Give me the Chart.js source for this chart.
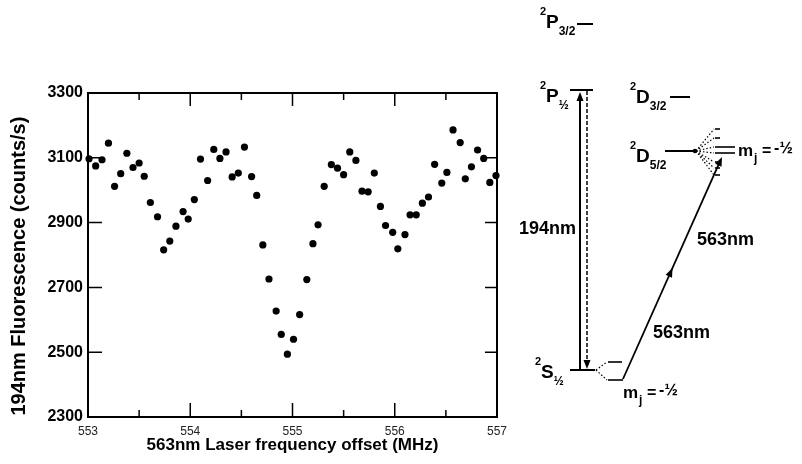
<!DOCTYPE html>
<html>
<head>
<meta charset="utf-8">
<script src="https://cdn.jsdelivr.net/npm/chart.js@4"></script>
<style>
  body { margin: 0; background: #fff; }
  canvas { display: block; }
</style>
</head>
<body>
<canvas id="scan" width="802" height="464"></canvas>
<script>
// laser frequency offset (MHz) and 194nm fluorescence (counts/s)
var freqOffset = [
	553.01, 553.075, 553.137, 553.2, 553.26, 553.32, 553.38, 553.44, 553.50, 553.55,
	553.61, 553.68, 553.74, 553.80, 553.86, 553.93, 553.98, 554.04, 554.10, 554.17,
	554.23, 554.29, 554.35, 554.41, 554.47, 554.53, 554.60, 554.65, 554.71, 554.77,
	554.84, 554.89, 554.95, 555.01, 555.07, 555.14, 555.20, 555.25, 555.31, 555.38,
	555.44, 555.50, 555.56, 555.62, 555.68, 555.74, 555.80, 555.86, 555.91, 555.98,
	556.03, 556.10, 556.15, 556.21, 556.27, 556.33, 556.39, 556.46, 556.51, 556.57,
	556.64, 556.69, 556.75, 556.81, 556.87, 556.93, 556.99
];
var counts = [
	3097, 3075, 3094, 3145, 3012, 3051, 3114, 3070, 3084, 3043,
	2962, 2918, 2816, 2843, 2889, 2934, 2911, 2971, 3096, 3030,
	3126, 3098, 3118, 3041, 3053, 3133, 3042, 2984, 2831, 2726,
	2627, 2555, 2494, 2540, 2616, 2724, 2835, 2893, 3012, 3079,
	3068, 3048, 3118, 3092, 2997, 2995, 3053, 2950, 2891, 2870,
	2819, 2863, 2924, 2924, 2960, 2979, 3080, 3022, 3055, 3186,
	3147, 3035, 3072, 3124, 3098, 3024, 3045
];
var xTicks = [553, 554, 555, 556, 557];
var xMinorTicks = [553.5, 554.5, 555.5, 556.5];
var yTicks = [2300, 2500, 2700, 2900, 3100, 3300];

var FONT = '"Liberation Sans", Arial, sans-serif';


/*
 * frame and inward tick marks, drawn on the chart's own scales
 */
var framePlugin = {
	id: 'frame',
	beforeDatasetsDraw: function (chart) {
		var ctx = chart.ctx;
		var a = chart.chartArea;
		var xs = chart.scales.x;
		var ys = chart.scales.y;
		ctx.save();
		ctx.strokeStyle = '#000';
		ctx.lineWidth = 2;
		ctx.strokeRect(a.left, a.top, a.right - a.left, a.bottom - a.top);

		ctx.lineWidth = 1.5;
		ctx.beginPath();
		xTicks.forEach(function (v) {
			var px = xs.getPixelForValue(v);
			ctx.moveTo(px, a.bottom); ctx.lineTo(px, a.bottom - 14);
			ctx.moveTo(px, a.top); ctx.lineTo(px, a.top + 13);
		});
		xMinorTicks.forEach(function (v) {
			var px = xs.getPixelForValue(v);
			ctx.moveTo(px, a.bottom); ctx.lineTo(px, a.bottom - 7);
			ctx.moveTo(px, a.top); ctx.lineTo(px, a.top + 7);
		});
		yTicks.forEach(function (v) {
			var py = ys.getPixelForValue(v);
			ctx.moveTo(a.left, py); ctx.lineTo(a.left + 14, py);
			ctx.moveTo(a.right, py); ctx.lineTo(a.right - 12, py);
		});
		ctx.stroke();
		ctx.restore();
	}
};


function arrowHead(ctx, x, y, angle, len, half) {
	ctx.save();
	ctx.translate(x, y);
	ctx.rotate(angle);
	ctx.beginPath();
	ctx.moveTo(0, 0);
	ctx.lineTo(-len, -half);
	ctx.lineTo(-len, half);
	ctx.closePath();
	ctx.fill();
	ctx.restore();
}

function line(ctx, x1, y1, x2, y2) {
	ctx.beginPath();
	ctx.moveTo(x1, y1);
	ctx.lineTo(x2, y2);
	ctx.stroke();
}

// term symbol like 2P1/2: superscript, letter, subscript
function term(ctx, x, base, sup, letter, sub) {
	ctx.font = 'bold 11px ' + FONT;
	ctx.fillText(sup, x, base - 13);
	ctx.font = 'bold 19px ' + FONT;
	ctx.fillText(letter, x + 6, base);
	var w = ctx.measureText(letter).width;
	ctx.font = 'bold 12px ' + FONT;
	ctx.fillText(sub, x + 6 + w, base + 7);
}

function mjLabel(ctx, x, base) {
	ctx.font = 'bold 17px ' + FONT;
	ctx.fillText('m', x, base);
	var w = ctx.measureText('m').width;
	ctx.font = 'bold 12px ' + FONT;
	ctx.fillText('j', x + w + 1, base + 6);
	ctx.font = 'bold 16px ' + FONT;
	ctx.fillText('=', x + w + 9, base);
	ctx.font = 'bold 16px ' + FONT;
	ctx.fillText('-\u00bd', x + w + 21, base - 3);
}


/*
 * level scheme on the right
 */
var levelPlugin = {
	id: 'levels',
	afterDraw: function (chart) {
		var ctx = chart.ctx;
		ctx.save();
		ctx.fillStyle = '#000';
		ctx.strokeStyle = '#000';
		ctx.textAlign = 'left';
		ctx.textBaseline = 'alphabetic';

		term(ctx, 540, 28, '2', 'P', '3/2');
		term(ctx, 540, 102, '2', 'P', '\u00bd');
		term(ctx, 630, 103, '2', 'D', '3/2');
		term(ctx, 630, 162, '2', 'D', '5/2');
		term(ctx, 535, 378, '2', 'S', '\u00bd');

		// levels
		ctx.lineWidth = 2;
		line(ctx, 577, 24, 593, 24);
		line(ctx, 570, 90, 593, 90);
		line(ctx, 670, 97, 690, 97);
		line(ctx, 665, 151, 695, 151);
		line(ctx, 570, 370, 595, 370);

		// Zeeman sublevels
		var dSub = [129, 138, 147, 153, 162, 168, 175];
		ctx.lineWidth = 1.6;
		dSub.forEach(function (y, i) {
			var end = (i === 2 || i === 3) ? 735 : 720;
			line(ctx, 715, y, end, y);
		});
		line(ctx, 608, 362, 622, 362);
		line(ctx, 608, 380, 623, 380);

		ctx.lineWidth = 1.2;
		ctx.setLineDash([1.5, 2]);
		dSub.forEach(function (y) {
			line(ctx, 696, 151, 714, y);
		});
		line(ctx, 596, 370, 607, 362);
		line(ctx, 596, 370, 607, 380);
		ctx.setLineDash([]);

		ctx.beginPath();
		ctx.arc(695, 151, 2.3, 0, Math.PI * 2);
		ctx.fill();

		// 194nm: excitation up, fluorescence down
		ctx.lineWidth = 2;
		line(ctx, 580, 370, 580, 100);
		arrowHead(ctx, 580, 92, -Math.PI / 2, 9, 3.5);
		ctx.lineWidth = 1.5;
		ctx.setLineDash([4, 2]);
		line(ctx, 587, 91, 587, 360);
		ctx.setLineDash([]);
		arrowHead(ctx, 587, 369, Math.PI / 2, 9, 3.5);

		// 563nm quadrupole transition
		var x1 = 623, y1 = 379, x2 = 722, y2 = 157;
		var ang = Math.atan2(y2 - y1, x2 - x1);
		ctx.lineWidth = 1.8;
		line(ctx, x1, y1, x2 - 6 * Math.cos(ang), y2 - 6 * Math.sin(ang));
		arrowHead(ctx, x2, y2, ang, 9, 3.5);
		arrowHead(ctx, x1 + 0.5 * (x2 - x1), y1 + 0.5 * (y2 - y1), ang, 9, 3.5);

		ctx.font = 'bold 18px ' + FONT;
		ctx.textBaseline = 'middle';
		ctx.textAlign = 'right';
		ctx.fillText('194nm', 576, 229);
		ctx.textAlign = 'left';
		ctx.fillText('563nm', 697, 240);
		ctx.fillText('563nm', 653, 333);

		ctx.textBaseline = 'alphabetic';
		mjLabel(ctx, 738, 156);
		mjLabel(ctx, 623, 398);

		ctx.restore();
	}
};


var ctx = document.getElementById('scan').getContext('2d');
new Chart(ctx, {
	type: 'scatter',
	data: {
		datasets: [
			{
				label: 'Fluorescence',
				data: freqOffset.map(function (f, i) { return { x: f, y: counts[i] }; }),
				backgroundColor: '#000',
				borderWidth: 0,
				pointRadius: 3.6,
				clip: false
			}
		]
	},
	options: {
		responsive: false,
		animation: false,
		layout: {
			padding: { top: 93, right: 305, left: 0, bottom: 0 }
		},
		plugins: {
			legend: { display: false },
			tooltip: { enabled: false }
		},
		scales: {
			x: {
				type: 'linear',
				min: 553,
				max: 557,
				afterBuildTicks: function (scale) {
					scale.ticks = xTicks.map(function (v) { return { value: v }; });
				},
				afterFit: function (scale) { scale.height = 47; },
				grid: { display: false, drawTicks: false },
				border: { display: false },
				ticks: {
					padding: 7,
					maxRotation: 0,
					color: '#222',
					font: { family: FONT, size: 12 },
					callback: function (v) { return String(v); }
				},
				title: {
					display: true,
					text: '563nm Laser frequency offset (MHz)',
					color: '#000',
					font: { family: FONT, size: 17, weight: 'bold' },
					padding: { top: 0, bottom: 8 }
				}
			},
			y: {
				min: 2300,
				max: 3300,
				afterBuildTicks: function (scale) {
					scale.ticks = yTicks.map(function (v) { return { value: v }; });
				},
				afterFit: function (scale) { scale.width = 88; },
				grid: { display: false, drawTicks: false },
				border: { display: false },
				ticks: {
					padding: 5,
					color: '#000',
					font: { family: FONT, size: 16, weight: 'bold' },
					callback: function (v) { return String(v); }
				},
				title: {
					display: true,
					text: '194nm Fluorescence (counts/s)    ',
					color: '#000',
					font: { family: FONT, size: 20, weight: 'bold' },
					padding: { top: 7, bottom: 0 }
				}
			}
		}
	},
	plugins: [framePlugin, levelPlugin]
});
</script>
</body>
</html>
